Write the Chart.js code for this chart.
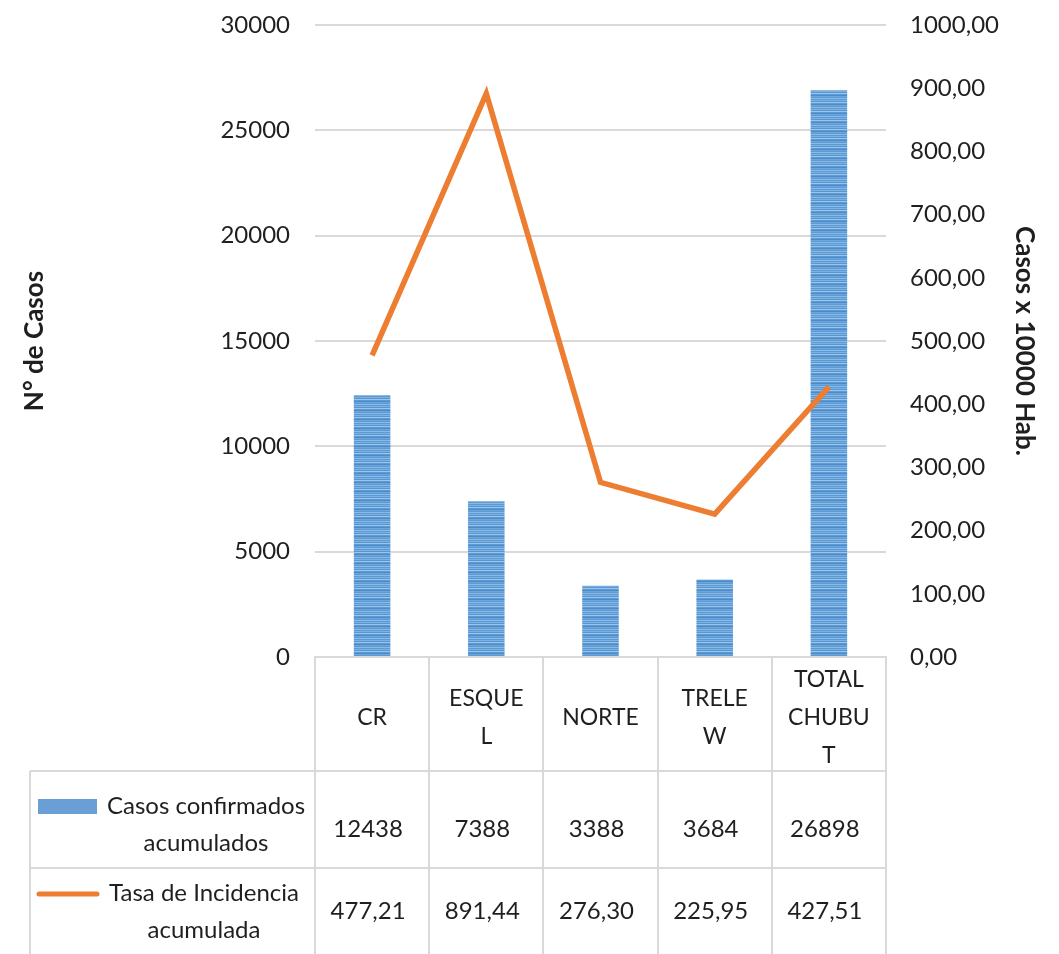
<!DOCTYPE html>
<html>
<head>
<meta charset="utf-8">
<script src="https://cdn.jsdelivr.net/npm/chart.js@4"></script>
<style>
  html, body { margin: 0; padding: 0; background: #fff; }
  #wrap { width: 1059px; height: 954px; }
</style>
</head>
<body>
<div id="wrap"><canvas id="mycanvas" width="1059" height="954"></canvas></div>
<script>
// data
var categories = ['CR', 'ESQUEL', 'NORTE', 'TRELEW', 'TOTAL CHUBUT'];
var categoryLines = [['CR'], ['ESQUE', 'L'], ['NORTE'], ['TRELE', 'W'], ['TOTAL', 'CHUBU', 'T']];
var casos = [12438, 7388, 3388, 3684, 26898];
var tasa = [477.21, 891.44, 276.30, 225.95, 427.51];
var casosLabel = ['Casos confirmados', 'acumulados'];
var tasaLabel = ['Tasa de Incidencia', 'acumulada'];

var FONT = 'Lato, "Open Sans", sans-serif';
var TEXT = '#1f1f1f';
var GRID = '#d9d9d9';

function comma(v) {
	return Number(v).toFixed(2).replace('.', ',');
}

// striped fill like the excel bars
function stripes() {
	var c = document.createElement('canvas');
	c.width = 4; c.height = 9;
	var g = c.getContext('2d');
	var rows = ['#5b9bd5', '#7fb1e0', '#5696d2', '#9ec4e8', '#5b9bd5', '#4b8bc9', '#6ea6db', '#5b9bd5', '#8dbae4'];
	for (var i = 0; i < rows.length; i++) {
		g.fillStyle = rows[i];
		g.fillRect(0, i, 4, 1);
	}
	return g.createPattern(c, 'repeat');
}

var tablePlugin = {
	id: 'dataTable',
	afterDraw: function(chart) {
		var ctx = chart.ctx;
		var area = chart.chartArea;
		var x = chart.scales.x;
		var colW = (area.right - area.left) / categories.length;
		var top = area.bottom;
		var row1 = 771, row2 = 868, bottom = 954;
		var left = 30;

		ctx.save();
		ctx.strokeStyle = GRID;
		ctx.lineWidth = 2;
		ctx.beginPath();
		// column lines
		for (var i = 0; i <= categories.length; i++) {
			var cx = Math.round(area.left + i * colW);
			ctx.moveTo(cx, top); ctx.lineTo(cx, bottom);
		}
		ctx.moveTo(left, row1); ctx.lineTo(area.right, row1);
		ctx.moveTo(left, row2); ctx.lineTo(area.right, row2);
		ctx.moveTo(left, row1); ctx.lineTo(left, bottom);
		ctx.stroke();

		ctx.fillStyle = TEXT;
		ctx.textAlign = 'center';
		ctx.textBaseline = 'middle';
		var lh = 38;
		for (var j = 0; j < categories.length; j++) {
			var px = x.getPixelForValue(j);
			var lines = categoryLines[j];
			var y0 = 718 - (lines.length - 1) * lh / 2;
			ctx.font = '23px ' + FONT;
			for (var k = 0; k < lines.length; k++) {
				ctx.fillText(lines[k], px, y0 + k * lh);
			}
			ctx.font = '24px ' + FONT;
			ctx.fillText(String(casos[j]), px - 4, 829);
			ctx.fillText(comma(tasa[j]), px - 4, 911);
		}

		// legend keys
		ctx.fillStyle = '#6a9fd6';
		ctx.fillRect(38, 799, 59, 15);
		ctx.strokeStyle = '#ed7d31';
		ctx.lineWidth = 5;
		ctx.lineCap = 'round';
		ctx.beginPath();
		ctx.moveTo(39, 894); ctx.lineTo(97, 894);
		ctx.stroke();

		ctx.fillStyle = TEXT;
		ctx.font = '24px ' + FONT;
		ctx.fillText(casosLabel[0], 206, 806);
		ctx.fillText(casosLabel[1], 206, 843);
		ctx.fillText(tasaLabel[0], 204, 893);
		ctx.fillText(tasaLabel[1], 204, 930);
		ctx.restore();
	}
};

function fitWidth(w) {
	return function(s) {
		s.width = w;
		s.paddingTop = 0;
		s.paddingBottom = 0;
	};
}

var ctx = document.getElementById('mycanvas');

var chartdata = {
	labels: categories,
	datasets: [
		{
			type: 'line',
			label: tasaLabel.join(' '),
			data: tasa,
			yAxisID: 'y1',
			borderColor: '#ed7d31',
			backgroundColor: '#ed7d31',
			borderWidth: 5.5,
			pointRadius: 0,
			tension: 0,
			order: 0
		},
		{
			type: 'bar',
			label: casosLabel.join(' '),
			data: casos,
			yAxisID: 'y',
			backgroundColor: stripes(),
			borderWidth: 0,
			barPercentage: 0.32,
			categoryPercentage: 1,
			order: 1
		}
	]
};

var chart = new Chart(ctx, {
	data: chartdata,
	options: {
		responsive: false,
		animation: false,
		layout: { padding: { top: 25, bottom: 297, left: 0, right: 0 } },
		plugins: {
			legend: { display: false },
			tooltip: { enabled: false }
		},
		scales: {
			x: {
				ticks: { display: false },
				grid: { display: false, drawTicks: false },
				border: { display: true, color: GRID, width: 2 }
			},
			y: {
				position: 'left',
				min: 0, max: 30000,
				ticks: { stepSize: 5000, padding: 25, color: TEXT, font: { family: FONT, size: 24 }, callback: function(v) { return String(v); } },
				grid: { color: GRID, lineWidth: 2, drawTicks: false },
				border: { display: false },
				title: { display: true, text: 'N° de Casos', color: TEXT, font: { family: FONT, size: 26, weight: 'bold' }, padding: { top: 19, bottom: 0 } },
				afterFit: fitWidth(315)
			},
			y1: {
				position: 'right',
				min: 0, max: 1000,
				ticks: { stepSize: 100, padding: 24, color: TEXT, font: { family: FONT, size: 24 }, callback: function(v) { return comma(v); } },
				grid: { display: false, drawTicks: false },
				border: { display: false },
				title: { display: true, text: 'Casos x 10000 Hab.', color: TEXT, font: { family: FONT, size: 26, weight: 'bold' }, padding: { top: 19, bottom: 0 } },
				afterFit: fitWidth(173)
			}
		}
	},
	plugins: [tablePlugin]
});
</script>
</body>
</html>
